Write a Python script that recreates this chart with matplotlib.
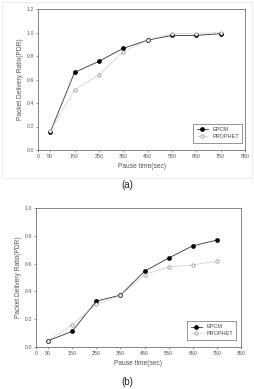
import matplotlib.pyplot as plt
from matplotlib.patches import Rectangle

# pause time on x, PDR on y
pause = [50, 150, 250, 350, 450, 550, 650, 750]
xticks = [0, 50, 150, 250, 350, 450, 550, 650, 750, 850]

epcm_a = [0.15, 0.66, 0.755, 0.865, 0.935, 0.975, 0.975, 0.99]
prophet_a = [0.165, 0.51, 0.64, 0.835, 0.935, 0.99, 0.99, 1.0]

epcm_b = [0.045, 0.113, 0.33, 0.373, 0.545, 0.64, 0.728, 0.769]
prophet_b = [0.046, 0.159, 0.306, 0.371, 0.52, 0.576, 0.59, 0.617]

W, H = 254, 389
fig = plt.figure(figsize=(W / 100, H / 100), dpi=100)
plt.rcParams['font.family'] = 'Liberation Sans'


def panel(rect, epcm, prophet, ymax, yticks, label, label_y, leg_anchor):
    l, b, r, t = rect
    ax = fig.add_axes([l / W, 1 - b / H, (r - l) / W, (b - t) / H])
    ax.plot(pause, epcm, color='#333333', lw=0.6, marker='o', ms=2.4,
            mfc='black', mec='black', label='EPCM')
    ax.plot(pause, prophet, color='#aaaaaa', lw=0.6, ls=(0, (1, 1)), marker='o',
            ms=2.4, mfc='white', mec='#666666', mew=0.4, label='PROPHET')
    ax.set_xlim(0, 850)
    ax.set_ylim(0, ymax)
    ax.set_xticks(xticks)
    ax.set_yticks(yticks)
    ax.set_yticklabels(['%.1f' % v for v in yticks])
    ax.tick_params(labelsize=3.8, length=1.5, width=0.4, pad=1.5, colors='#555555')
    for s in ax.spines.values():
        s.set_linewidth(0.5)
        s.set_color('#555555')
    ax.set_xlabel('Pause time(sec)', fontsize=4.8, color='#555555', labelpad=2.5)
    ax.set_ylabel('Packet Delivery Ratio(PDR)', fontsize=4.8, color='#555555', labelpad=2)
    leg = ax.legend(loc='lower right', bbox_to_anchor=leg_anchor, fontsize=4.0,
                    frameon=True, fancybox=False, edgecolor='#444444',
                    handlelength=2.0, borderpad=0.6, labelspacing=0.35,
                    handletextpad=0.8, borderaxespad=0.3)
    leg.get_frame().set_linewidth(0.5)
    for txt in leg.get_texts():
        txt.set_color('#444444')
    fig.text(0.5, 1 - label_y / H, label, ha='center', va='center', fontsize=7,
             color='#222222')
    return ax


panel((38, 150, 245, 9), epcm_a, prophet_a, 1.2,
      [0.0, 0.2, 0.4, 0.6, 0.8, 1.0, 1.2], '(a)', 185, (0.995, 0.04))
panel((36, 347, 241, 208), epcm_b, prophet_b, 1.0,
      [0.0, 0.2, 0.4, 0.6, 0.8, 1.0], '(b)', 382, (0.985, 0.04))

# faint border around the first panel image
fig.add_artist(Rectangle((2 / W, 1 - 178 / H), 250 / W, 176 / H,
                         transform=fig.transFigure, fill=False,
                         lw=0.4, ec='#dddddd'))

fig.savefig('out.png', dpi=100)
